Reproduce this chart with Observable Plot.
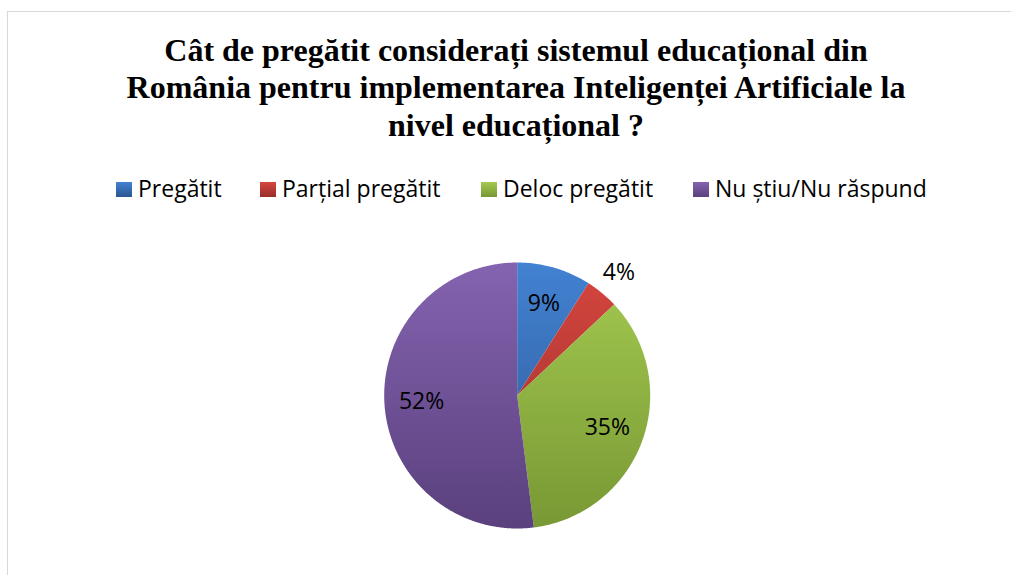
<!DOCTYPE html>
<html>
<head>
<meta charset="utf-8">
<script src="https://cdn.jsdelivr.net/npm/d3@7"></script>
<script src="https://cdn.jsdelivr.net/npm/@observablehq/plot@0.6"></script>
<style>
  body { margin: 0; background: #fff; }
  #wrap { position: relative; width: 1011px; height: 575px; overflow: hidden; font-family: "Open Sans", sans-serif; color: #000; }
  #frame { position: absolute; left: 7px; top: 11px; width: 1100px; height: 700px; border: 1.5px solid #D9D9D9; z-index: 5; pointer-events: none; }
  #title { position: absolute; left: 0; top: 31.5px; width: 1032px; text-align: center; font-family: "Liberation Serif", serif; font-weight: bold; font-size: 32px; line-height: 37.5px; transform: scaleX(1.0); transform-origin: 516px 0; white-space: nowrap; }
  .lg { position: absolute; top: 173px; height: 30px; line-height: 30px; font-size: 23px; white-space: nowrap; }
  .sw { position: absolute; top: 182px; width: 16px; height: 14.5px; }
  #chart { position: absolute; left: 0; top: 210px; }
</style>
</head>
<body>
<div id="wrap">
  <div id="title"></div>
  <div id="legend"></div>
  <div id="chart"></div>
  <div id="frame"></div>
</div>
<script>
// ---- data ----
const titleLines = [
  "Cât de pregătit considerați sistemul educațional din",
  "România pentru implementarea Inteligenței Artificiale la",
  "nivel educațional ?"
];
const categories = ["Pregătit", "Parțial pregătit", "Deloc pregătit", "Nu știu/Nu răspund"];
const percents = [9, 4, 35, 52];
const topColors = ["#4282D2", "#D6463F", "#A4CA50", "#8463B0"];
const bottomColors = ["#2D5592", "#982E2A", "#789834", "#5A407D"];
const legendLeft = [116, 260, 481, 693];

// ---- title ----
document.getElementById("title").innerHTML = titleLines.join("<br>");

// ---- legend ----
const legend = document.getElementById("legend");
categories.forEach((c, i) => {
  const sw = document.createElement("div");
  sw.className = "sw";
  sw.style.left = legendLeft[i] + "px";
  sw.style.background = `linear-gradient(${topColors[i]}, ${bottomColors[i]})`;
  legend.appendChild(sw);
  const t = document.createElement("div");
  t.className = "lg";
  t.style.left = (legendLeft[i] + 22) + "px";
  t.textContent = c;
  legend.appendChild(t);
});

// ---- pie geometry from data ----
const arcs = d3.pie().sort(null).value(d => d)(percents);
const slicePts = arcs.flatMap((a, i) => {
  const n = Math.max(2, Math.ceil((a.endAngle - a.startAngle) / (Math.PI / 360)));
  const pts = [{cat: categories[i], x: 0, y: 0}];
  for (let k = 0; k <= n; k++) {
    const t = a.startAngle + (a.endAngle - a.startAngle) * k / n;
    pts.push({cat: categories[i], x: Math.sin(t), y: Math.cos(t)});
  }
  return pts;
});
const labelPts = arcs.map((a, i) => {
  const m = (a.startAngle + a.endAngle) / 2;
  const r = percents[i] < 5 ? 1.2 : 0.72;
  return {x: r * Math.sin(m), y: r * Math.cos(m), text: percents[i] + "%"};
});

const W = 1011, H = 365, R = 133, CX = 516.7, CY = 185;
const chart = Plot.plot({
  width: W, height: H,
  margin: 0,
  style: {background: "transparent", overflow: "visible"},
  x: {axis: null, domain: [-CX / R, (W - CX) / R]},
  y: {axis: null, domain: [-(H - CY) / R, CY / R]},
  color: {domain: categories, range: categories.map((c, i) => `url(#pg${i})`)},
  marks: [
    Plot.line(slicePts, {x: "x", y: "y", z: "cat", fill: "cat", stroke: "none", curve: "linear-closed"}),
    Plot.text(labelPts, {x: "x", y: "y", text: "text", fontSize: 23, fontFamily: "Open Sans", fill: "#000"})
  ]
});
// gradients spanning the pie vertically
const ys = chart.scale("y");
const y1 = ys.apply(1), y2 = ys.apply(-1);
const ns = "http://www.w3.org/2000/svg";
const defs = document.createElementNS(ns, "defs");
categories.forEach((c, i) => {
  const g = document.createElementNS(ns, "linearGradient");
  g.setAttribute("id", "pg" + i);
  g.setAttribute("gradientUnits", "userSpaceOnUse");
  g.setAttribute("x1", 0); g.setAttribute("x2", 0);
  g.setAttribute("y1", y1); g.setAttribute("y2", y2);
  [[0, topColors[i]], [1, bottomColors[i]]].forEach(([o, col]) => {
    const s = document.createElementNS(ns, "stop");
    s.setAttribute("offset", o); s.setAttribute("stop-color", col);
    g.appendChild(s);
  });
  defs.appendChild(g);
});
chart.insertBefore(defs, chart.firstChild);
document.getElementById("chart").appendChild(chart);
</script>
</body>
</html>
